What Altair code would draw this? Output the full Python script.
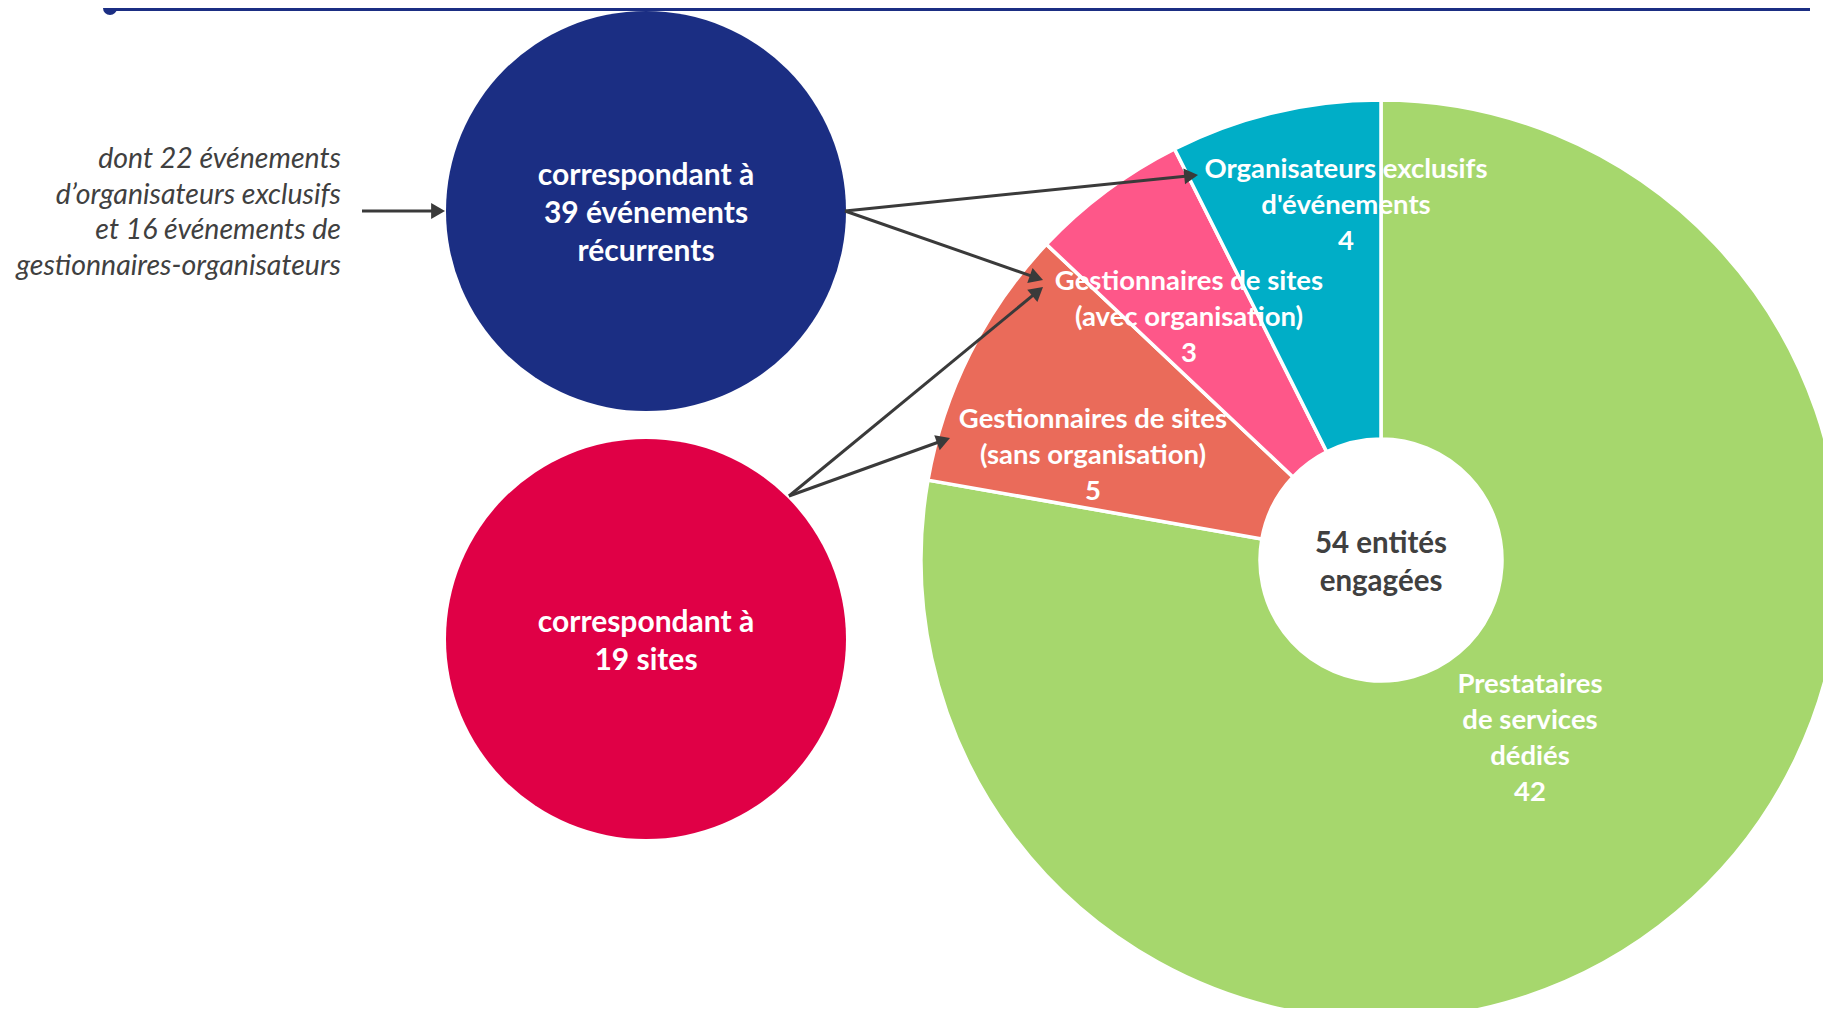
import math
import altair as alt
import pandas as pd

# ---------------- data ----------------
categories = [
    "Prestataires de services dédiés",
    "Gestionnaires de sites (sans organisation)",
    "Gestionnaires de sites (avec organisation)",
    "Organisateurs exclusifs d'événements",
]
values = [42, 5, 3, 4]
slice_colors = ["#A6D76D", "#EA6B5A", "#FE5789", "#00AEC7"]

slice_labels = [
    "Prestataires\nde services\ndédiés\n42",
    "Gestionnaires de sites\n(sans organisation)\n5",
    "Gestionnaires de sites\n(avec organisation)\n3",
    "Organisateurs exclusifs\nd'événements\n4",
]
slice_label_x = [1530, 1093, 1189, 1346]
slice_label_y = [685, 420, 282, 170]  # first line

center_text = ["54 entités\nengagées"]

bubble_texts = ["correspondant à\n39 événements\nrécurrents", "correspondant à\n19 sites"]
bubble_colors = ["#1B2E83", "#E00046"]
bubble_x = [646, 646]
bubble_y = [211, 639]
bubble_text_y = [176, 623]  # first line

note_text = ["dont 22 événements\nd\u2019organisateurs exclusifs\net 16 événements de\ngestionnaires-organisateurs"]

# arrows: start -> tip (page pixel coordinates)
arrow_x1 = [362, 845, 845, 789, 789]
arrow_y1 = [211, 211, 211, 496, 496]
arrow_x2 = [445, 1198, 1043, 1043, 950]
arrow_y2 = [211, 175, 280, 287, 438]

# ---------------- layout ----------------
W, H = 1815, 1000
OX, OY = 8, 8
DCX, DCY = 1381, 560  # donut centre (page px)

xs = alt.Scale(domain=[OX, OX + W], nice=False, zero=False)
ys = alt.Scale(domain=[OY + H, OY], nice=False, zero=False)
X = lambda f: alt.X(f, scale=xs, axis=None)
Y = lambda f: alt.Y(f, scale=ys, axis=None)

FONT = "Lato"

# donut
pie_df = pd.DataFrame({"category": categories, "value": values, "ord": list(range(len(values)))})
donut = alt.Chart(pie_df).mark_arc(
    x=DCX - OX, y=DCY - OY, radius=460, radius2=121,
    stroke="white", strokeWidth=3.5, clip=True,
).encode(
    theta=alt.Theta("value:Q", stack=True),
    color=alt.Color("category:N", scale=alt.Scale(domain=categories, range=slice_colors), legend=None),
    order=alt.Order("ord:Q"),
)

lab_df = pd.DataFrame({"t": slice_labels, "x": slice_label_x, "y": slice_label_y})
slice_text = alt.Chart(lab_df).mark_text(
    font=FONT, fontWeight="bold", fontSize=27.5, color="white",
    align="center", baseline="middle", lineBreak="\n", lineHeight=36,
).encode(x=X("x:Q"), y=Y("y:Q"), text="t:N")

ctr_df = pd.DataFrame({"t": center_text, "x": [DCX], "y": [544]})
ctr_text = alt.Chart(ctr_df).mark_text(
    font=FONT, fontWeight="bold", fontSize=29.5, color="#404040",
    align="center", baseline="middle", lineBreak="\n", lineHeight=38,
).encode(x=X("x:Q"), y=Y("y:Q"), text="t:N")

# bubbles
bub_df = pd.DataFrame({"t": bubble_texts, "x": bubble_x, "y": bubble_y,
                       "ty": bubble_text_y, "fill": bubble_colors})
bubbles = alt.Chart(bub_df).mark_circle(size=(2 * 200) ** 2, opacity=1).encode(
    x=X("x:Q"), y=Y("y:Q"), color=alt.Color("fill:N", scale=None, legend=None)
)
bub_text = alt.Chart(bub_df).mark_text(
    font=FONT, fontWeight="bold", fontSize=30, color="white",
    align="center", baseline="middle", lineBreak="\n", lineHeight=38,
).encode(x=X("x:Q"), y=Y("ty:Q"), text="t:N")

# note
note_df = pd.DataFrame({"t": note_text, "x": [341], "y": [159]})
note = alt.Chart(note_df).mark_text(
    font=FONT, fontStyle="italic", fontSize=28.5, color="#404040",
    align="right", baseline="middle", lineBreak="\n", lineHeight=35.5,
).encode(x=X("x:Q"), y=Y("y:Q"), text="t:N")

# arrows
HEAD = 8
rows = []
for a, b, c, d in zip(arrow_x1, arrow_y1, arrow_x2, arrow_y2):
    dx, dy = c - a, d - b
    L = math.hypot(dx, dy)
    ux, uy = dx / L, dy / L
    h = HEAD * math.sqrt(3) / 2
    rows.append({
        "x": a, "y": b,
        "xe": c - ux * 1.5 * h, "ye": d - uy * 1.5 * h,
        "hx": c - ux * h, "hy": d - uy * h,
        "ang": math.degrees(math.atan2(dx, -dy)) % 360,
    })
arr_df = pd.DataFrame(rows)
arr_lines = alt.Chart(arr_df).mark_rule(color="#3A3A3A", strokeWidth=3).encode(
    x=X("x:Q"), y=Y("y:Q"), x2="xe:Q", y2="ye:Q"
)
arr_heads = alt.Chart(arr_df).mark_point(
    shape="triangle-up", filled=True, size=(2 * HEAD) ** 2, color="#3A3A3A", opacity=1
).encode(x=X("hx:Q"), y=Y("hy:Q"), angle=alt.Angle("ang:Q", scale=None))

# top rule with dot
top_df = pd.DataFrame({"x": [110], "x2": [1810], "y": [8]})
top_line = alt.Chart(top_df).mark_rule(color="#1B2E83", strokeWidth=6).encode(
    x=X("x:Q"), x2="x2:Q", y=Y("y:Q")
)
top_dot = alt.Chart(top_df).mark_circle(size=(2 * 7) ** 2, color="#1B2E83", opacity=1).encode(
    x=X("x:Q"), y=Y("y:Q")
)

chart = alt.layer(
    donut, slice_text, ctr_text, bubbles, bub_text, note, arr_lines, arr_heads, top_line, top_dot
).resolve_scale(color="independent").properties(
    width=W, height=H, padding=0, autosize="none"
).configure_view(stroke=None)

chart.save("out.html", embed_options={"renderer": "svg", "actions": False})
